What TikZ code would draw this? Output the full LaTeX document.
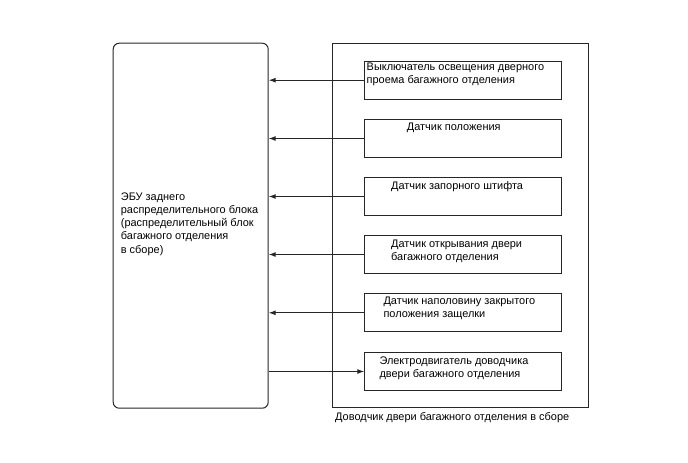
\documentclass[tikz,border=0pt]{standalone}
\usepackage{fontspec}
\setmainfont{Liberation Sans}
\usetikzlibrary{arrows.meta}
\begin{document}
\begin{tikzpicture}[x=1pt,y=-1pt,
  line/.style={draw=black!85, line width=1pt},
  sbox/.style={line, rectangle, anchor=north west, minimum width=197pt, minimum height=38pt, inner sep=0pt},
  txt/.style={anchor=north west, inner sep=0pt, align=left, font=\fontsize{10.95}{13.2}\selectfont},
  arr/.style={line, -{Latex[length=7pt,width=5pt]}}]
\useasboundingbox (0,0) rectangle (688,463);
% ECU
\node[line, rectangle, rounded corners=6pt, anchor=north west, minimum width=155pt, minimum height=365pt, inner sep=0pt] (ecu) at (112.7,42.7) {};
\node[txt] (ecut) at (120.7,192.5) {ЭБУ заднего\\распределительного блока\\(распределительный блок\\багажного отделения\\в сборе)};
% outer assembly
\node[line, rectangle, anchor=north west, minimum width=256pt, minimum height=364pt, inner sep=0pt] (asm) at (332.3,42.7) {};
\node[txt] (asmt) at (335,412.3) {Доводчик двери багажного отделения в сборе};
% inner boxes
\node[sbox] (b1) at (364.3,60.7) {};
\node[sbox] (b2) at (364.3,119) {};
\node[sbox] (b3) at (364.3,177) {};
\node[sbox] (b4) at (364.3,235) {};
\node[sbox] (b5) at (364.3,293.3) {};
\node[sbox] (b6) at (364.3,352) {};
\node[txt] (t1) at (366.5,63) {Выключатель освещения дверного\\проема багажного отделения};
\node[txt] (t2) at (406.7,122.7) {Датчик положения};
\node[txt] (t3) at (391,181) {Датчик запорного штифта};
\node[txt] (t4) at (391,240) {Датчик открывания двери\\багажного отделения};
\node[txt] (t5) at (383.3,297) {Датчик наполовину закрытого\\положения защелки};
\node[txt] (t6) at (379.3,356.5) {Электродвигатель доводчика\\двери багажного отделения};
% connectors
\foreach \b in {b1,b2,b3,b4,b5}
  \draw[arr] (\b.west) -- (\b.west -| ecu.east);
\draw[arr] (b6.west -| ecu.east) -- (b6.west);
\end{tikzpicture}
\end{document}
